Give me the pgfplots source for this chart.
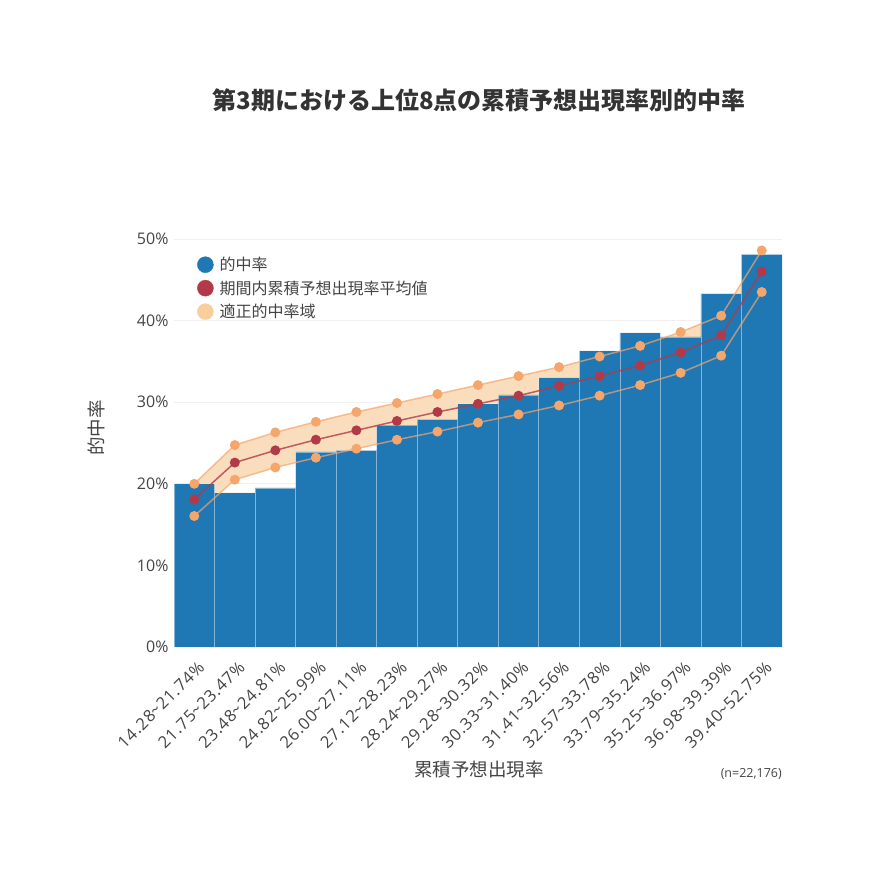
\documentclass[border=0pt]{standalone}
\usepackage{fontspec}
\setmainfont{Open Sans}
\newfontfamily\xfont[LetterSpace=5]{Open Sans}
\newfontfamily\cjk{Noto Sans CJK JP}
\newcommand\tl{{\cjk\textasciitilde}}
\usepackage{pgfplots}
\pgfplotsset{compat=1.18}
\usepgfplotslibrary{fillbetween}
\definecolor{cbar}{HTML}{1F77B4}
\definecolor{cred}{HTML}{B23A48}
\definecolor{corg}{HTML}{F5A66C}
\definecolor{cband}{HTML}{F9DDBC}
\definecolor{cleg}{HTML}{F7CE9C}
\definecolor{ctxt}{HTML}{444444}
\begin{document}
\begin{tikzpicture}
\path (0pt,0pt) rectangle (870pt,870pt);
\begin{axis}[
  at={(174pt,223pt)}, anchor=south west,
  width=608pt, height=408pt, scale only axis,
  xmin=-0.5, xmax=14.5, ymin=0, ymax=50,
  axis line style={draw=none}, tick style={draw=none},
  ytick={0,10,20,30,40,50},
  yticklabel={\pgfmathprintnumber{\tick}\%},
  y tick label style={font=\fontsize{16}{16}\selectfont, text=ctxt, xshift=-2pt},
  /pgf/number format/assume math mode=true,
  ymajorgrids, grid style={draw=black!6, line width=0.6pt},
  xtick={0,...,14},
  xticklabels={14.28\tl21.74\%,21.75\tl23.47\%,23.48\tl24.81\%,24.82\tl25.99\%,26.00\tl27.11\%,27.12\tl28.23\%,28.24\tl29.27\%,29.28\tl30.32\%,30.33\tl31.40\%,31.41\tl32.56\%,32.57\tl33.78\%,33.79\tl35.24\%,35.25\tl36.97\%,36.98\tl39.39\%,39.40\tl52.75\%},
  x tick label style={font=\xfont\fontsize{16.5}{16.5}\selectfont, text=ctxt, rotate=45, anchor=north east, inner sep=1pt, xshift=-6pt, yshift=-10pt},
  legend style={at={(axis description cs:0,1)}, anchor=north west, draw=none, fill=none,
    font=\cjk\fontsize{16}{16}\selectfont, text=ctxt, xshift=20pt, yshift=-14pt,
    row sep=4.5pt, column sep=4pt},
  legend cell align=left,
]
\addplot[name path=U, draw=none, forget plot] coordinates {(0,20.0)(1,24.75)(2,26.3)(3,27.6)(4,28.8)(5,29.9)(6,31.0)(7,32.1)(8,33.2)(9,34.3)(10,35.6)(11,36.9)(12,38.6)(13,40.6)(14,48.6)};
\addplot[name path=L, draw=none, forget plot] coordinates {(0,16.05)(1,20.5)(2,22.0)(3,23.2)(4,24.3)(5,25.4)(6,26.4)(7,27.5)(8,28.5)(9,29.6)(10,30.8)(11,32.1)(12,33.6)(13,35.7)(14,43.5)};
\addplot[fill=cband, draw=none, forget plot] fill between[of=U and L];
\addplot[ybar, bar width=1, fill=cbar, draw=white, draw opacity=0.45, line width=0.7pt, forget plot] coordinates {(0,20.0)(1,18.9)(2,19.5)(3,23.9)(4,24.1)(5,27.2)(6,27.9)(7,29.8)(8,30.9)(9,33.0)(10,36.3)(11,38.5)(12,38.0)(13,43.3)(14,48.1)};
\addplot[corg, draw opacity=0.7, line width=1.5pt, mark=*, mark size=4.2pt, mark options={fill=corg, draw=none, opacity=1}, forget plot] coordinates {(0,20.0)(1,24.75)(2,26.3)(3,27.6)(4,28.8)(5,29.9)(6,31.0)(7,32.1)(8,33.2)(9,34.3)(10,35.6)(11,36.9)(12,38.6)(13,40.6)(14,48.6)};
\addplot[corg, draw opacity=0.7, line width=1.5pt, mark=*, mark size=4.2pt, mark options={fill=corg, draw=none, opacity=1}, forget plot] coordinates {(0,16.05)(1,20.5)(2,22.0)(3,23.2)(4,24.3)(5,25.4)(6,26.4)(7,27.5)(8,28.5)(9,29.6)(10,30.8)(11,32.1)(12,33.6)(13,35.7)(14,43.5)};
\addplot[cred, draw opacity=0.8, line width=1.5pt, mark=*, mark size=4.2pt, mark options={fill=cred, draw=none, opacity=1}, forget plot] coordinates {(0,18.1)(1,22.6)(2,24.1)(3,25.4)(4,26.55)(5,27.7)(6,28.8)(7,29.8)(8,30.8)(9,32.0)(10,33.2)(11,34.5)(12,36.1)(13,38.2)(14,46.0)};
\addlegendimage{legend image code/.code={\fill[cbar] (0pt,0pt) circle (8pt);}}
\addlegendentry{的中率}
\addlegendimage{legend image code/.code={\fill[cred] (0pt,0pt) circle (8pt);}}
\addlegendentry{期間内累積予想出現率平均値}
\addlegendimage{legend image code/.code={\fill[cleg] (0pt,0pt) circle (8pt);}}
\addlegendentry{適正的中率域}
\end{axis}
\node[font=\cjk\bfseries\fontsize{24}{24}\selectfont, text=black!80] at (479pt,770pt) {第3期における上位8点の累積予想出現率別的中率};
\node[font=\cjk\fontsize{18.5}{19}\selectfont, text=ctxt, rotate=90] at (96pt,442pt) {的中率};
\node[font=\cjk\fontsize{18.5}{19}\selectfont, text=ctxt] at (479pt,100pt) {累積予想出現率};
\node[font=\fontsize{12.5}{12.5}\selectfont, text=ctxt, anchor=east, inner sep=0pt] at (782pt,96pt) {(n=22,176)};
\end{tikzpicture}
\end{document}
